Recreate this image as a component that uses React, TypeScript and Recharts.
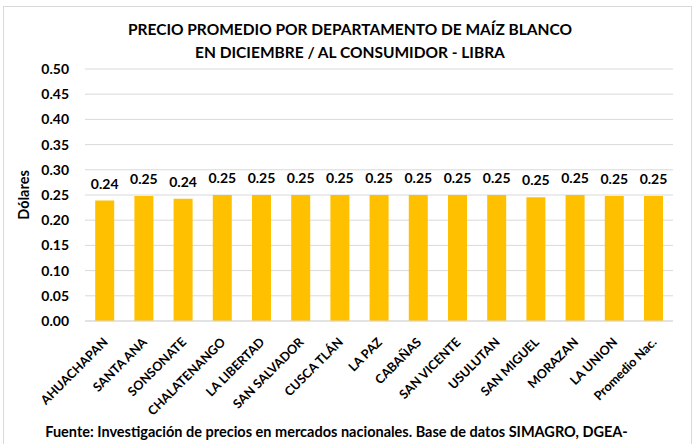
import React from "react";
import { BarChart, Bar, XAxis, YAxis, CartesianGrid, LabelList } from "recharts";

const departamentos = [
  "AHUACHAPAN", "SANTA ANA", "SONSONATE", "CHALATENANGO", "LA LIBERTAD",
  "SAN SALVADOR", "CUSCA TLÁN", "LA PAZ", "CABAÑAS", "SAN VICENTE",
  "USULUTAN", "SAN MIGUEL", "MORAZAN", "LA UNION", "Promedio Nac.",
];
const precios = [
  0.239, 0.248, 0.2425, 0.25, 0.25,
  0.25, 0.25, 0.25, 0.25, 0.25,
  0.25, 0.2455, 0.25, 0.248, 0.248,
];
const yTicks = [0, 0.05, 0.1, 0.15, 0.2, 0.25, 0.3, 0.35, 0.4, 0.45, 0.5];
const titulo1 = "PRECIO PROMEDIO POR DEPARTAMENTO DE MAÍZ BLANCO";
const titulo2 = "EN DICIEMBRE / AL CONSUMIDOR - LIBRA";
const ejeY = "Dólares";
const fuente = "Fuente: Investigación de precios en mercados nacionales. Base de datos SIMAGRO, DGEA-";

const data = departamentos.map((d, i) => ({ name: d, value: precios[i] }));

const FONT = "Lato, 'Open Sans', sans-serif";

const XTick = (props: any) => {
  const { x, y, payload } = props;
  return (
    <text
      transform={`translate(${x + 4},${y + 14}) rotate(-45)`}
      textAnchor="end"
      fontFamily={FONT}
      fontSize={12.6}
      fontWeight={700}
      fill="#000"
    >
      {payload.value}
    </text>
  );
};

const YLabel = (props: any) => {
  const { viewBox } = props;
  const cy = viewBox.y + viewBox.height / 2;
  return (
    <text
      transform={`translate(29,${cy}) rotate(-90)`}
      textAnchor="middle"
      fontFamily={FONT}
      fontSize={14.5}
      fontWeight={700}
      fill="#000"
    >
      {ejeY}
    </text>
  );
};

export default function App() {
  return (
    <div
      style={{
        position: "fixed",
        left: 0,
        top: 0,
        width: 696,
        height: 444,
        background: "#fff",
        overflow: "hidden",
        fontFamily: FONT,
      }}
    >
      <div
        style={{
          position: "absolute",
          left: 3,
          top: 6,
          width: 689,
          height: 450,
          border: "1px solid #d9d9d9",
          boxSizing: "border-box",
        }}
      />
      <div
        style={{
          position: "absolute",
          left: 0,
          top: 18,
          width: 700,
          textAlign: "center",
          fontSize: 15.5,
          fontWeight: 700,
          lineHeight: "23px",
          color: "#000",
        }}
      >
        <div>{titulo1}</div>
        <div>{titulo2}</div>
      </div>
      <div style={{ position: "absolute", left: 0, top: 0 }}>
        <BarChart
          width={696}
          height={444}
          data={data}
          margin={{ top: 69, right: 23, bottom: 33, left: 0 }}
          barCategoryGap="26%"
        >
          <CartesianGrid vertical={false} stroke="#d9d9d9" />
          <XAxis
            dataKey="name"
            interval={0}
            height={90}
            tickLine={false}
            axisLine={{ stroke: "#d9d9d9" }}
            tick={<XTick />}
          />
          <YAxis
            width={85}
            domain={[0, 0.5]}
            ticks={yTicks}
            tickFormatter={(v: number) => v.toFixed(2)}
            axisLine={false}
            tickLine={false}
            tickMargin={10}
            tick={{ fontFamily: FONT, fontSize: 14, fontWeight: 700, fill: "#000" }}
            label={<YLabel />}
          />
          <Bar dataKey="value" fill="#FFC000" isAnimationActive={false}>
            <LabelList
              dataKey="value"
              position="top"
              offset={12}
              formatter={(v: any) => Number(v).toFixed(2)}
              style={{ fontFamily: FONT, fontSize: 14, fontWeight: 700, fill: "#000" }}
            />
          </Bar>
        </BarChart>
      </div>
      <div
        style={{
          position: "absolute",
          left: 0,
          top: 423,
          width: 673,
          textAlign: "center",
          fontSize: 14.5,
          fontWeight: 700,
          color: "#000",
          whiteSpace: "nowrap",
        }}
      >
        {fuente}
      </div>
    </div>
  );
}
